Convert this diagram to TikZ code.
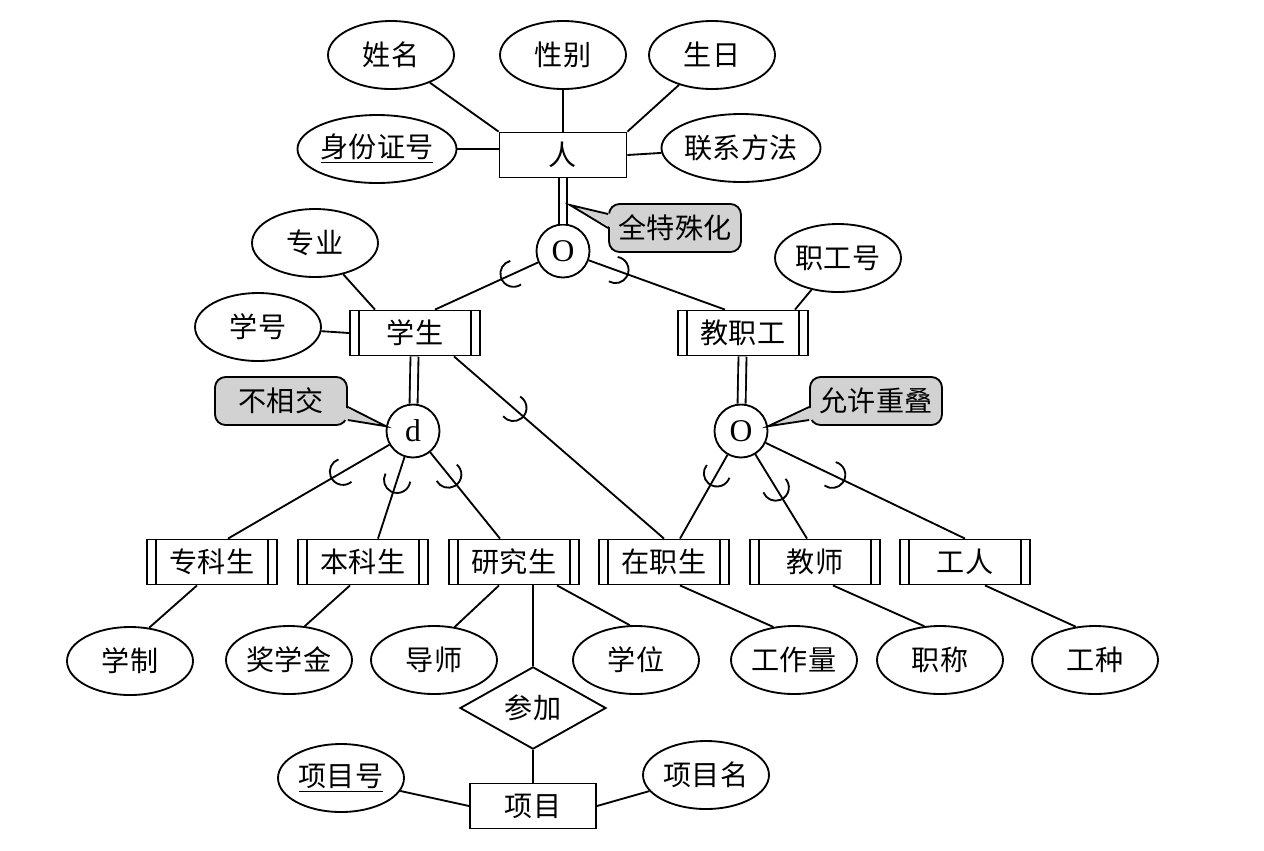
\documentclass[tikz,border=0pt]{standalone}
\usepackage{fontspec}
\setmainfont{Liberation Serif}
\newfontfamily\cjk{Noto Sans CJK SC}
\usetikzlibrary{positioning,calc,shapes.geometric}

% subset mark on the line from #1 (superclass) to #2, at fraction #3
\newcommand{\subarc}[3]{%
  \coordinate (sa) at ($(#1.center)!#3!(#2.center)$);
  \draw let \p1=($(#1.center)-(#2.center)$), \n1={atan2(\y1,\x1)} in
    ($(sa)+(\n1:7.5pt)+(\n1+80:7.5pt)$) arc[start angle=\n1+80, delta angle=200, radius=7.5pt];
}

\begin{document}
\begin{tikzpicture}[x=0.02cm,y=-0.02cm,line width=1.05pt,
  font=\cjk\fontsize{16}{18}\selectfont,
  attr/.style={draw,ellipse,minimum width=2.52cm,minimum height=1.36cm,inner sep=0pt},
  ent/.style={draw,rectangle,minimum width=2.54cm,minimum height=0.9cm,inner sep=0pt},
  sub/.style={ent,minimum width=2.6cm},
  spec/.style={draw,circle,minimum size=1.06cm,inner sep=0pt,font=\rmfamily\fontsize{18}{18}\selectfont},
  rel/.style={draw,diamond,minimum width=2.92cm,minimum height=1.4cm,inner sep=0pt},
  note/.style={draw,fill=gray!35,rounded corners=6pt,minimum width=2.64cm,minimum height=0.96cm},
  dbl/.style={double,double distance=3.5pt}]
  \useasboundingbox (0,0) rectangle (1264,850);

  \node[ent] (ren) at (563,155) {人};
  \node[attr] (xm) at (391,55) {姓名};
  \node[attr] (xb) at (563,55) {性别};
  \node[attr] (sr) at (712,55) {生日};
  \node[attr] (sfz) at (377,149) {\underline{身份证号}};
  \node[attr] (lx) at (741,148) {联系方法};

  \node[spec] (o1) at (563,251) {O};
  \node[sub] (xs) at (415,333) {学生};
  \node[sub] (jzg) at (743,333) {教职工};
  \node[attr] (zy) at (315,243) {专业};
  \node[attr] (xh) at (258,327) {学号};
  \node[attr] (zgh) at (838,258) {职工号};

  \node[spec] (dc) at (413,431) {d};
  \node[spec] (oc2) at (741,431) {O};

  \node[sub] (zk) at (212,562) {专科生};
  \node[sub] (bk) at (363,562) {本科生};
  \node[sub] (yjs) at (514,562) {研究生};
  \node[sub] (zzs) at (664,562) {在职生};
  \node[sub] (js) at (815,562) {教师};
  \node[sub] (gr) at (965,562) {工人};

  \node[attr] (xz) at (130,661) {学制};
  \node[attr] (jxj) at (289,660) {奖学金};
  \node[attr] (ds) at (434,660) {导师};
  \node[attr] (xw) at (636,660) {学位};
  \node[attr] (gzl) at (794,660) {工作量};
  \node[attr] (zc) at (940,660) {职称};
  \node[attr] (gz) at (1095,660) {工种};

  \node[rel] (cj) at (533,708) {参加};
  \node[ent,minimum width=2.52cm] (xmu) at (533,806) {项目};
  \node[attr] (xmh) at (341,778) {\underline{项目号}};
  \node[attr] (xmm) at (706,775) {项目名};

  \node[note] (n1) at (675,228) {全特殊化};
  \node[note] (n2) at (281,401) {不相交};
  \node[note] (n3) at (876,401) {允许重叠};

  \foreach \n in {xs,jzg,zk,bk,yjs,zzs,js,gr} {
    \draw ([xshift=0.2cm]\n.north west) -- ([xshift=0.2cm]\n.south west);
    \draw ([xshift=-0.2cm]\n.north east) -- ([xshift=-0.2cm]\n.south east);
  }

  % attributes
  \draw (xm) -- (ren.north west);
  \draw (xb) -- (ren.north);
  \draw (sr) -- (ren.north east);
  \draw (sfz.east) -- (sfz.east -| ren.west);
  \draw (ren.east) -- (lx);
  \draw (zy) -- ([xshift=-0.8cm]xs.north);
  \draw (xh) -- (xs.west);
  \draw (zgh) -- ([xshift=1.04cm]jzg.north);
  \draw ([xshift=-0.3cm]zk.south) -- (xz.60);
  \draw ([xshift=-0.26cm]bk.south) -- (jxj.65);
  \draw ([xshift=-0.3cm]yjs.south) -- (ds.58);
  \draw ([xshift=0.86cm]yjs.south) -- (xw.100);
  \draw ([xshift=0.32cm]zzs.south) -- (gzl.122);
  \draw ([xshift=0.36cm]js.south) -- (zc.115);
  \draw ([xshift=0.4cm]gr.south) -- (gz.120);
  \draw (yjs.south -| cj.north) -- (cj.north);
  \draw (cj.south) -- (xmu.north);
  \draw (xmh) -- (xmu.west);
  \draw (xmu.east) -- (xmm);

  % specialisation
  \coordinate (xsT) at ([xshift=0.4cm]xs.north);
  \coordinate (jzgT) at ([xshift=-0.36cm]jzg.north);
  \coordinate (xsB) at ([xshift=0.78cm]xs.south);
  \coordinate (zzsL) at (zzs.north);
  \coordinate (zkT) at ([xshift=0.32cm]zk.north);
  \coordinate (bkT) at ([xshift=0.3cm]bk.north);
  \coordinate (yjsT) at ([xshift=-0.28cm]yjs.north);
  \coordinate (zzsT) at ([xshift=0.32cm]zzs.north);
  \coordinate (jsT) at ([xshift=-0.16cm]js.north);
  \coordinate (grT) at (gr.north);

  \draw[dbl] (ren) -- (o1);
  \draw[dbl] (xs) -- (dc);
  \draw[dbl] (jzg) -- (oc2);
  \draw (o1) -- (xsT);
  \draw (o1) -- (jzgT);
  \draw (xsB) -- (zzsL);
  \foreach \t in {zkT,bkT,yjsT} \draw (dc) -- (\t);
  \foreach \t in {zzsT,jsT,grT} \draw (oc2) -- (\t);

  \subarc{o1}{xsT}{0.48}
  \subarc{o1}{jzgT}{0.40}
  \subarc{xsB}{zzsL}{0.33}
  \subarc{dc}{zkT}{0.44}
  \subarc{dc}{bkT}{0.57}
  \subarc{dc}{yjsT}{0.50}
  \subarc{oc2}{zzsT}{0.50}
  \subarc{oc2}{jsT}{0.63}
  \subarc{oc2}{grT}{0.46}

  % callout pointers
  \coordinate (t1) at (570,205);
  \foreach \n/\a/\t/\u/\l in {n1/west/t1/-14/0, n2/east/dc.170/6/19, n3/west/oc2.10/6/19} {
    \fill[gray!35] ($(\n.\a)!2pt!(\n.center)+(0,\u)$) -- (\t) -- ($(\n.\a)!2pt!(\n.center)+(0,\l)$) -- cycle;
    \draw ($(\n.\a)+(0,\u)$) -- (\t) -- ($(\n.\a)+(0,\l)$);
  }
\end{tikzpicture}
\end{document}
